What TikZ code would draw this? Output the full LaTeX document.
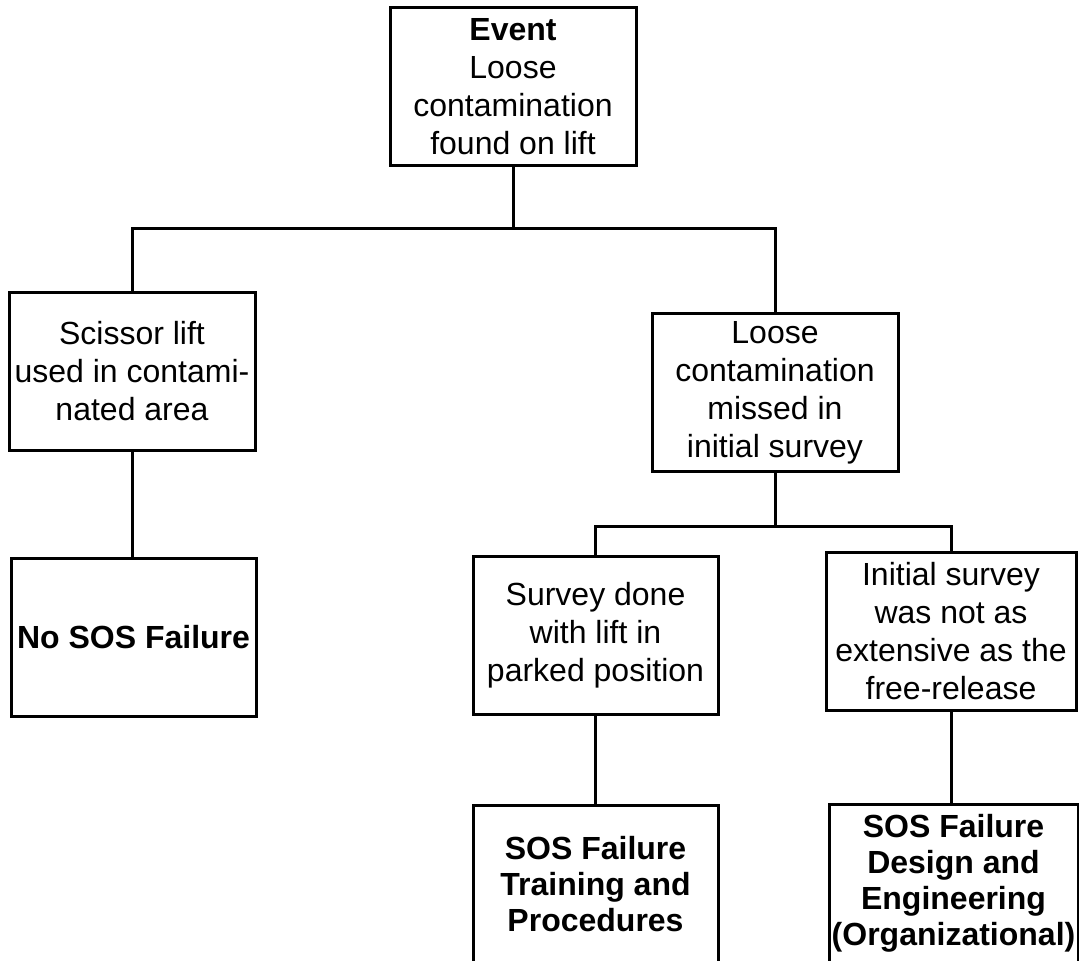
\documentclass[tikz,border=0pt]{standalone}
\usepackage{fontspec}
\setmainfont{Liberation Sans}
\usepackage{tikz}
\tikzset{
    cause-box/.style = {draw=black, fill=white, line width=1.5pt, rectangle, align=center, minimum width=123pt, minimum height=79pt, inner sep=1pt, font=\fontsize{16pt}{19pt}\selectfont},
    result-box/.style = {cause-box, font=\fontsize{16pt}{18pt}\selectfont\bfseries},
    tree-line/.style = {draw=black, line width=1.5pt},
}

\begin{document}
\begin{tikzpicture}[x=0.5pt, y=-0.5pt]
\clip (0,0) rectangle (1079,960);
\fill[white] (0,0) rectangle (1079,960);

\node [cause-box] (event) at (513,86.5) {\textbf{Event}\\Loose\\contamination\\found on lift};
\node [cause-box] (scissor) at (132,371) {Scissor lift\\used in contami-\\nated area};
\node [result-box, minimum width=122.5pt] (no-sos) at (133.5,637) {No SOS Failure};
\node [cause-box] (missed) at (775,392.5) {Loose\\contamination\\missed in\\initial survey};
\node [cause-box, minimum width=122.5pt] (parked) at (595.5,635.5) {Survey done\\with lift in\\parked position};
\node [cause-box, minimum width=125pt] (extent) at (951,631.5) {Initial survey\\was not as\\extensive as the\\free-release};
\node [result-box, minimum width=122.5pt] (training) at (595.5,884.5) {SOS Failure\\Training and\\Procedures};
\node [result-box, minimum width=124.5pt] (design) at (953.5,883.5) {SOS Failure\\Design and\\Engineering\\(Organizational)};

\coordinate (top-fork) at (513,228);
\coordinate (mid-fork) at (775,526);

\draw [tree-line] (event.south) -- (top-fork) -| (scissor.north);
\draw [tree-line] (top-fork) -| (missed.north);
\draw [tree-line] (scissor.south) -- (no-sos.north -| scissor.south);
\draw [tree-line] (missed.south) -- (mid-fork) -| (parked.north);
\draw [tree-line] (mid-fork) -| (extent.north);
\draw [tree-line] (parked.south) -- (training.north -| parked.south);
\draw [tree-line] (extent.south) -- (design.north -| extent.south);
\end{tikzpicture}
\end{document}
